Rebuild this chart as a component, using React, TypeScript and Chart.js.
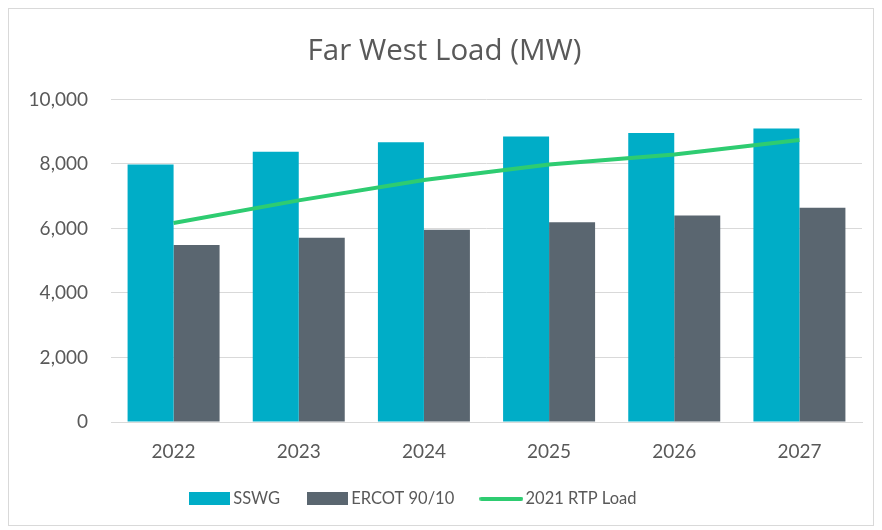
import React, { useEffect, useRef } from "react";
import { Chart, registerables } from "chart.js";

Chart.register(...registerables);

const years = ["2022", "2023", "2024", "2025", "2026", "2027"];
const sswg = [7980, 8380, 8670, 8850, 8960, 9100];
const ercot9010 = [5490, 5710, 5960, 6190, 6400, 6640];
const rtpLoad2021 = [6170, 6870, 7500, 7980, 8290, 8740];
const yTicks = [0, 2000, 4000, 6000, 8000, 10000];

const TEAL = "#00adc7";
const SLATE = "#5a6670";
const GREEN = "#2ecc71";
const TEXT = "#595959";
const FONT = "Lato";

function makeSwatch(w: number, h: number, color: string) {
  const c = document.createElement("canvas");
  c.width = w;
  c.height = h;
  const ctx = c.getContext("2d")!;
  ctx.fillStyle = color;
  if (h <= 5) {
    ctx.beginPath();
    const r = h / 2;
    ctx.moveTo(r, 0);
    ctx.lineTo(w - r, 0);
    ctx.arc(w - r, r, r, -Math.PI / 2, Math.PI / 2);
    ctx.lineTo(r, h);
    ctx.arc(r, r, r, Math.PI / 2, (3 * Math.PI) / 2);
    ctx.fill();
  } else {
    ctx.fillRect(0, 0, w, h);
  }
  return c;
}

const legendShift = {
  id: "legendShift",
  afterLayout(chart: any) {
    const lg = chart.legend;
    if (lg) {
      lg.left = 153;
    }
  },
};

export default function App() {
  const ref = useRef<HTMLCanvasElement | null>(null);

  useEffect(() => {
    if (!ref.current) return;
    const swatches = [
      makeSwatch(41, 13, TEAL),
      makeSwatch(41, 13, SLATE),
      makeSwatch(44, 4, GREEN),
    ];
    const chart = new Chart(ref.current, {
      type: "bar",
      data: {
        labels: years,
        datasets: [
          {
            type: "bar",
            label: "SSWG",
            data: sswg,
            backgroundColor: TEAL,
            order: 1,
            categoryPercentage: 0.735,
            barPercentage: 1,
          },
          {
            type: "bar",
            label: "ERCOT 90/10",
            data: ercot9010,
            backgroundColor: SLATE,
            order: 1,
            categoryPercentage: 0.735,
            barPercentage: 1,
          },
          {
            type: "line",
            label: "2021 RTP Load",
            data: rtpLoad2021,
            borderColor: GREEN,
            backgroundColor: GREEN,
            borderWidth: 4,
            pointRadius: 0,
            tension: 0,
            order: 0,
          },
        ] as any,
      },
      options: {
        animation: false,
        responsive: true,
        maintainAspectRatio: false,
        layout: { padding: { left: 18, right: 11, top: 0, bottom: 8 } },
        plugins: {
          title: {
            display: true,
            text: "Far West Load (MW)",
            color: TEXT,
            font: { family: "Open Sans", size: 29.5, weight: "normal" },
            padding: { top: 25, bottom: 30 },
          },
          legend: {
            position: "bottom",
            align: "start",
            labels: {
              color: TEXT,
              font: { family: FONT, size: 16.5 },
              usePointStyle: true,
              pointStyleWidth: 32,
              padding: 31,
              sort: (a: any, b: any) => a.datasetIndex - b.datasetIndex,
              generateLabels: (ch: any) => {
                const items = Chart.defaults.plugins.legend.labels.generateLabels(ch);
                items.forEach((it: any) => {
                  it.pointStyle = swatches[it.datasetIndex];
                });
                return items;
              },
            },
          },
          tooltip: { enabled: false },
        },
        scales: {
          x: {
            grid: { display: false, drawTicks: false },
            border: { display: true, color: "#d9d9d9", width: 1 },
            ticks: {
              color: TEXT,
              font: { family: FONT, size: 19 },
              padding: 18,
            },
            afterFit: (axis: any) => {
              axis.height = 37.5;
            },
          },
          y: {
            min: 0,
            max: 10000,
            afterBuildTicks: (axis: any) => {
              axis.ticks = yTicks.map((v) => ({ value: v }));
            },
            grid: { color: "#d9d9d9", lineWidth: 1, drawTicks: false },
            border: { display: false },
            ticks: {
              color: TEXT,
              font: { family: FONT, size: 19 },
              padding: 23,
              callback: (v: any) => Number(v).toLocaleString("en-US"),
            },
            afterFit: (axis: any) => {
              axis.width = 84;
            },
          },
        },
      } as any,
      plugins: [legendShift],
    });
    return () => chart.destroy();
  }, []);

  return (
    <div
      style={{
        width: 866,
        height: 518,
        border: "1px solid #d9d9d9",
        boxSizing: "border-box",
        position: "relative",
        background: "#fff",
      }}
    >
      <canvas ref={ref} />
    </div>
  );
}
